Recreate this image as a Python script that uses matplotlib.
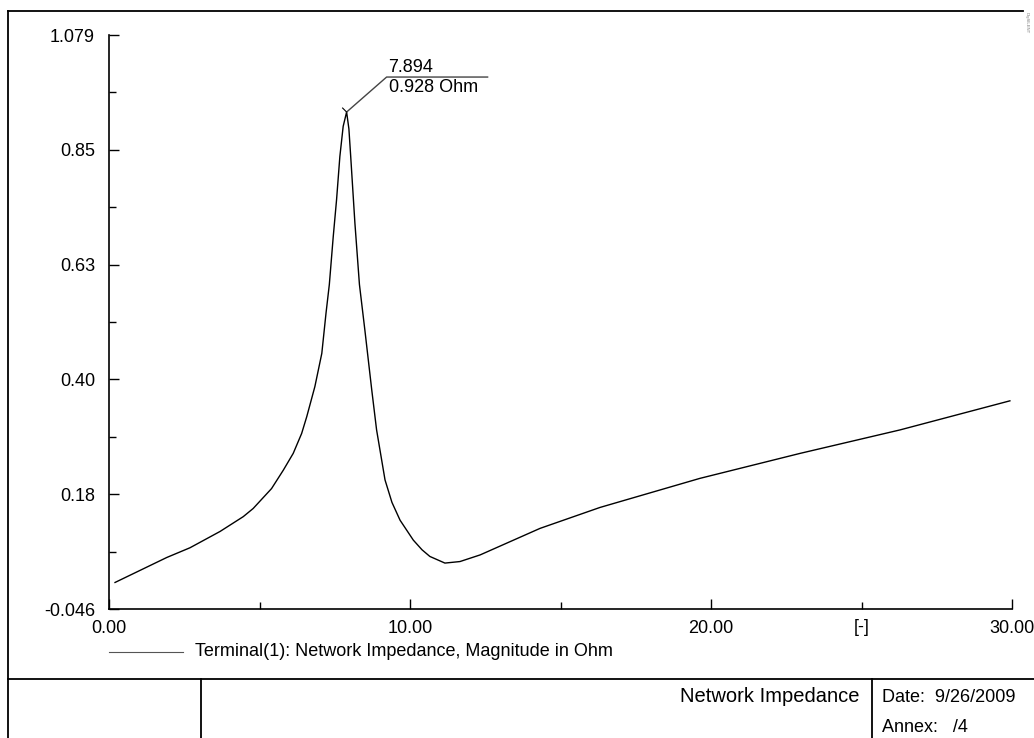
import numpy as np
import matplotlib
matplotlib.use("Agg")
import matplotlib.pyplot as plt

plt.rcParams['font.family'] = ['Liberation Sans', 'DejaVu Sans']

# impedance magnitude vs. harmonic order
order = [0.2, 1.92, 2.69, 3.69, 4.46, 4.79, 5.40, 5.79, 6.12, 6.40, 6.57, 6.84,
         7.07, 7.21, 7.32, 7.45, 7.56, 7.67, 7.78, 7.894, 7.97, 8.03, 8.17, 8.32,
         8.50, 8.73, 8.89, 9.17, 9.40, 9.67, 10.11, 10.40, 10.66, 11.16, 11.66,
         12.33, 13.21, 14.32, 16.31, 19.63, 22.96, 26.28, 29.93]
magnitude = [0.006, 0.055, 0.074, 0.106, 0.135, 0.151, 0.190, 0.226, 0.259, 0.298,
             0.331, 0.390, 0.455, 0.534, 0.590, 0.684, 0.756, 0.841, 0.900, 0.928,
             0.895, 0.841, 0.710, 0.590, 0.501, 0.383, 0.305, 0.207, 0.163, 0.128,
             0.089, 0.070, 0.057, 0.044, 0.047, 0.060, 0.083, 0.112, 0.153, 0.210,
             0.259, 0.305, 0.362]

y_min, y_max = -0.046, 1.079
y_labels = ["-0.046", "0.18", "0.40", "0.63", "0.85", "1.079"]
x_ticks = [0, 10, 20, 30]
x_labels = ["0.00", "10.00", "20.00", "30.00"]
peak_x, peak_y = 7.894, 0.928

W, H = 1034, 738
FS = 13
fig = plt.figure(figsize=(W / 100, H / 100), dpi=100)

ax = fig.add_axes([109 / W, 1 - 609 / H, (1012 - 109) / W, (609 - 35) / H])
ax.plot(order, magnitude, color='black', lw=1.0)
ax.set_xlim(0, 30)
ax.set_ylim(y_min, y_max)
ax.patch.set_visible(False)

for s in ['top', 'right']:
    ax.spines[s].set_visible(False)
for s in ['left', 'bottom']:
    ax.spines[s].set_linewidth(1.2)

y_ticks = np.linspace(y_min, y_max, 6)
ax.set_yticks(y_ticks)
ax.set_yticklabels(y_labels)
ax.set_yticks((y_ticks[:-1] + y_ticks[1:]) / 2, minor=True)
ax.set_xticks(x_ticks)
ax.set_xticklabels(x_labels)
ax.set_xticks([5, 15, 25], minor=True)
ax.tick_params(axis='both', which='major', direction='in', length=7, width=1,
               labelsize=FS, color='black')
ax.tick_params(axis='both', which='minor', direction='in', length=5, width=1)
ax.tick_params(axis='x', which='major', pad=8)
ax.tick_params(axis='y', which='major', pad=10)
ax.text(25, y_min - 0.037, "[-]", ha='center', va='center', fontsize=FS)

# page overlay in pixel coordinates
ov = fig.add_axes([0, 0, 1, 1], zorder=2)
ov.set_xlim(0, W)
ov.set_ylim(H, 0)
ov.axis('off')
ov.patch.set_visible(False)

frame = dict(color='black', lw=1.3)
ov.plot([8, 1023], [11, 11], **frame)
ov.plot([8, 8], [11, H], **frame)
ov.plot([8, W], [679, 679], **frame)
ov.plot([201, 201], [679, H], **frame)
ov.plot([872, 872], [679, H], **frame)

# legend
ov.plot([109, 183], [652, 652], color='#555555', lw=0.8)
ov.text(195, 652, "Terminal(1): Network Impedance, Magnitude in Ohm",
        ha='left', va='center', fontsize=FS)

# title block
ov.text(860, 697, "Network Impedance", ha='right', va='center', fontsize=14.5)
ov.text(882, 697, "Date:  9/26/2009", ha='left', va='center', fontsize=FS)
ov.text(882, 728, "Annex:   /4", ha='left', va='center', fontsize=FS)
ov.text(1027, 12, "DIgSILENT", rotation=-90, ha='center', va='top',
        fontsize=3, color='#777777')

# peak annotation
px, py = ax.transData.transform((peak_x, peak_y))
py = H - py
ov.plot([px, px + 40, px + 141], [py, py - 35, py - 35], color='#444444', lw=1.0)
ov.plot([px - 4, px], [py - 4, py], color='black', lw=0.8)
ov.text(px + 42, py - 36, f"{peak_x:.3f}", ha='left', va='bottom', fontsize=FS)
ov.text(px + 42, py - 33, f"{peak_y:.3f} Ohm", ha='left', va='top', fontsize=FS)

fig.savefig("out.png", dpi=100)
